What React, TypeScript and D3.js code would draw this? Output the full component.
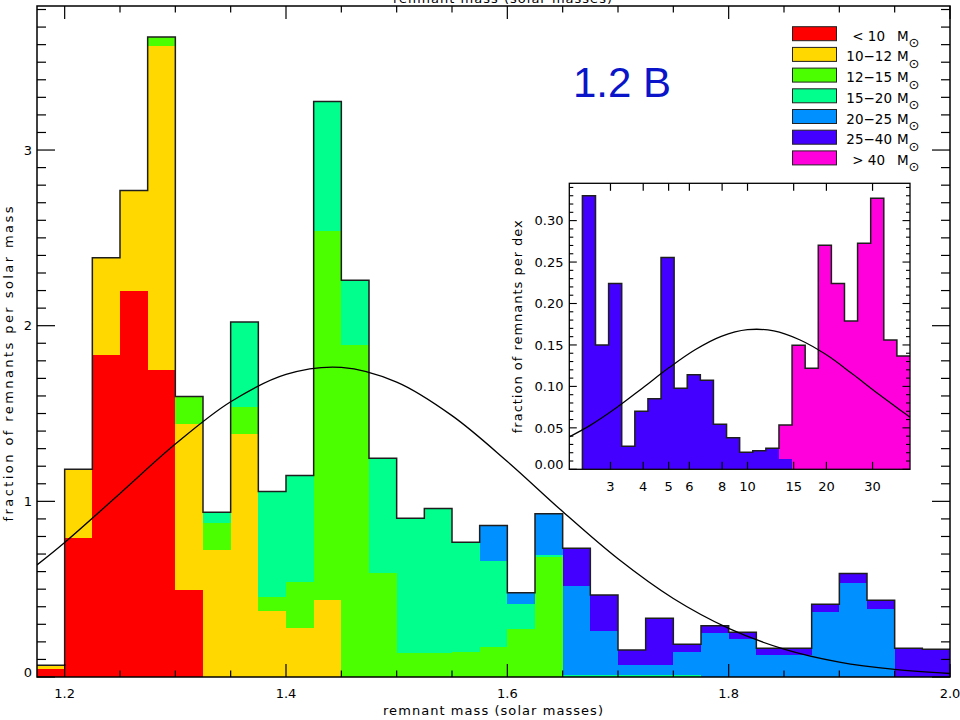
import React from "react";
import * as d3 from "d3";

// ---------- main histogram (remnant mass, bins of 0.025 Msun starting at 1.175) ----------
const BIN_START = 1.175;
const BIN_WIDTH = 0.025;

const massLt10 = [0.045, 0.790, 1.835, 2.199, 1.749, 0.496, 0, 0, 0, 0, 0, 0, 0, 0, 0, 0, 0, 0, 0, 0, 0, 0, 0, 0, 0, 0, 0, 0, 0, 0, 0, 0, 0];
const mass10to12 = [0.022, 0.393, 0.552, 0.570, 1.843, 0.944, 0.724, 1.385, 0.378, 0.281, 0.439, 0, 0, 0, 0, 0, 0, 0, 0, 0, 0, 0, 0, 0, 0, 0, 0, 0, 0, 0, 0, 0, 0];
const mass12to15 = [0, 0, 0, 0, 0.051, 0.157, 0.155, 0.152, 0.076, 0.262, 2.102, 1.888, 0.591, 0.139, 0.139, 0.141, 0.173, 0.272, 0.686, 0, 0, 0, 0, 0, 0, 0, 0, 0, 0, 0, 0, 0, 0];
const mass15to20 = [0, 0, 0, 0, 0, 0, 0.059, 0.484, 0.602, 0.604, 0.735, 0.370, 0.655, 0.765, 0.820, 0.626, 0.488, 0.144, 0.009, 0.010, 0.010, 0.010, 0.010, 0.010, 0, 0, 0, 0, 0, 0, 0, 0, 0];
const mass20to25 = [0, 0, 0, 0, 0, 0, 0, 0, 0, 0, 0, 0, 0, 0, 0, 0, 0.201, 0.064, 0.234, 0.510, 0.252, 0.058, 0.058, 0.134, 0.252, 0.217, 0.124, 0.124, 0.370, 0.537, 0.386, 0, 0];
const mass25to40 = [0, 0, 0, 0, 0, 0, 0, 0, 0, 0, 0, 0, 0, 0, 0, 0, 0, 0, 0, 0.213, 0.205, 0.086, 0.266, 0.042, 0.040, 0.038, 0.039, 0.039, 0.044, 0.052, 0.051, 0.163, 0.158];

// fitted curve
const fitMass = [1.175, 1.2, 1.25, 1.3, 1.35, 1.4, 1.45, 1.5, 1.55, 1.6, 1.65, 1.7, 1.75, 1.8, 1.85, 1.9, 1.95, 2.0];
const fitValue = [0.638, 0.766, 1.045, 1.326, 1.567, 1.723, 1.763, 1.679, 1.488, 1.227, 0.942, 0.673, 0.447, 0.277, 0.159, 0.085, 0.043, 0.020];

// ---------- inset histogram (black hole mass, bins of 0.05 dex starting at log10 M = 0.37) ----------
const INSET_LOG_START = 0.37;
const INSET_LOG_WIDTH = 0.05;
const insetMass25to40 = [0.330, 0.150, 0.224, 0.0277, 0.070, 0.0852, 0.2554, 0.0977, 0.1142, 0.1074, 0.0543, 0.0382, 0.0205, 0.0225, 0.0253, 0.0128, 0, 0, 0, 0, 0, 0, 0, 0, 0];
const insetMassGt40 = [0, 0, 0, 0, 0, 0, 0, 0, 0, 0, 0, 0, 0, 0, 0, 0.0407, 0.1496, 0.1219, 0.2703, 0.224, 0.179, 0.2727, 0.327, 0.156, 0.1367];

const insetFitMass = [2.09, 2.51, 3.16, 3.98, 5.01, 6.31, 7.94, 10.0, 12.6, 15.8, 20.0, 25.1, 31.6, 39.8, 41.7];
const insetFitValue = [0.0392, 0.0530, 0.0742, 0.0981, 0.1224, 0.1442, 0.1604, 0.1684, 0.1670, 0.1563, 0.1381, 0.1152, 0.0908, 0.0675, 0.0628];

// ---------- labels ----------
const legendLabels = ["< 10", "10\u221212", "12\u221215", "15\u221220", "20\u221225", "25\u221240", "> 40"];
const seriesColors = ["#ff0000", "#ffd800", "#4cff00", "#00ff8c", "#0090ff", "#4400ff", "#ff00dc"];
const xMajorTicks = [1.2, 1.4, 1.6, 1.8, 2.0];
const yMajorTicks = [0, 1, 2, 3];
const insetXTicks = [3, 4, 5, 6, 8, 10, 15, 20, 30];
const insetYTicks = [0, 0.05, 0.1, 0.15, 0.2, 0.25, 0.3];

const FONT = "DejaVu Sans, sans-serif";

export default function App() {
  const W = 960;
  const H = 720;
  const m = { left: 37, right: 950, top: 6, bottom: 677 };
  const x = d3.scaleLinear().domain([1.175, 2.0]).range([m.left, m.right]);
  const y = d3.scaleLinear().domain([0, 3.82]).range([m.bottom, m.top]);

  const mainSeries = [massLt10, mass10to12, mass12to15, mass15to20, mass20to25, mass25to40];
  const nBins = massLt10.length;
  const edges = d3.range(nBins + 1).map((i) => BIN_START + i * BIN_WIDTH);
  const totals = d3.range(nBins).map((i) => d3.sum(mainSeries, (s) => s[i]));

  const mainRects: React.ReactNode[] = [];
  for (let i = 0; i < nBins; i++) {
    let cum = 0;
    const x0 = Math.round(x(edges[i]));
    const x1 = Math.round(x(edges[i + 1]));
    mainSeries.forEach((s, k) => {
      const v = s[i];
      if (v > 0) {
        const yTop = Math.round(y(cum + v));
        const yBot = Math.round(y(cum));
        mainRects.push(
          <rect key={`m${i}-${k}`} x={x0} y={yTop} width={x1 - x0} height={Math.max(1, yBot - yTop)} fill={seriesColors[k]} />
        );
      }
      cum += v;
    });
  }

  let stepD = `M${x(edges[0])},${y(totals[0])}`;
  for (let i = 0; i < nBins; i++) {
    stepD += `H${x(edges[i + 1])}`;
    if (i < nBins - 1) stepD += `V${y(totals[i + 1])}`;
  }

  const fitLine = d3
    .line<[number, number]>()
    .x((d) => x(d[0]))
    .y((d) => y(d[1]))
    .curve(d3.curveCatmullRom.alpha(0.5));
  const fitD = fitLine(fitMass.map((v, i) => [v, fitValue[i]]) as [number, number][]) || "";

  const xMinor = d3.range(0, 17).map((i) => 1.2 + i * 0.05);
  const yMinor = d3.range(0, 39).map((i) => i * 0.1);

  // ---------- inset ----------
  const im = { left: 569.3, right: 910, top: 183.3, bottom: 469.3 };
  const ix = d3.scaleLog().domain([Math.pow(10, 0.32), Math.pow(10, 1.62)]).range([im.left, im.right]);
  const iy = d3.scaleLinear().domain([0, 0.345]).range([im.bottom, im.top]);
  const insetSeries = [insetMass25to40, insetMassGt40];
  const insetColors = [seriesColors[5], seriesColors[6]];
  const nInset = insetMass25to40.length;
  const iEdges = d3.range(nInset + 1).map((i) => Math.pow(10, INSET_LOG_START + i * INSET_LOG_WIDTH));
  const iTotals = d3.range(nInset).map((i) => d3.sum(insetSeries, (s) => s[i]));
  const insetRects: React.ReactNode[] = [];
  for (let i = 0; i < nInset; i++) {
    let cum = 0;
    const x0 = Math.round(ix(iEdges[i]));
    const x1 = Math.round(ix(iEdges[i + 1]));
    insetSeries.forEach((s, k) => {
      const v = s[i];
      if (v > 0) {
        const yTop = Math.round(iy(cum + v));
        const yBot = Math.round(iy(cum));
        insetRects.push(
          <rect key={`i${i}-${k}`} x={x0} y={yTop} width={x1 - x0} height={Math.max(1, yBot - yTop)} fill={insetColors[k]} />
        );
      }
      cum += v;
    });
  }
  let iStepD = `M${ix(iEdges[0])},${iy(0)}V${iy(iTotals[0])}`;
  for (let i = 0; i < nInset; i++) {
    iStepD += `H${ix(iEdges[i + 1])}`;
    if (i < nInset - 1) iStepD += `V${iy(iTotals[i + 1])}`;
  }
  const iFitLine = d3
    .line<[number, number]>()
    .x((d) => ix(d[0]))
    .y((d) => iy(d[1]))
    .curve(d3.curveCatmullRom.alpha(0.5));
  const iFitD = iFitLine(insetFitMass.map((v, i) => [v, insetFitValue[i]]) as [number, number][]) || "";
  const iyMinor = d3.range(0, 35).map((i) => i * 0.01);

  const legendTop = 26.7;
  const legendStep = 20.7;

  return (
    <svg
      width={W}
      height={H}
      viewBox={`0 0 ${W} ${H}`}
      style={{ position: "absolute", left: 0, top: 0, background: "#fff", display: "block" }}
      fontFamily={FONT}
    >
      <rect x={0} y={0} width={W} height={H} fill="#fff" />
      <defs>
        <clipPath id="mainClip">
          <rect x={m.left} y={m.top} width={m.right - m.left} height={m.bottom - m.top} />
        </clipPath>
        <clipPath id="insetClip">
          <rect x={im.left} y={im.top} width={im.right - im.left} height={im.bottom - im.top} />
        </clipPath>
      </defs>

      {/* main bars */}
      <g>{mainRects}</g>
      <path d={stepD} fill="none" stroke="#1e1e1e" strokeWidth={1.5} />
      <path d={fitD} fill="none" stroke="#000" strokeWidth={1.3} clipPath="url(#mainClip)" />

      {/* main frame */}
      <rect x={m.left} y={m.top} width={m.right - m.left} height={m.bottom - m.top} fill="none" stroke="#000" strokeWidth={1.5} />
      {xMinor.map((v, i) => {
        const major = xMajorTicks.some((t) => Math.abs(t - v) < 1e-6);
        const len = major ? 13 : 6.5;
        const px = x(v);
        return (
          <g key={`xt${i}`} stroke="#000" strokeWidth={1.2}>
            <line x1={px} x2={px} y1={m.bottom} y2={m.bottom - len} />
            <line x1={px} x2={px} y1={m.top} y2={m.top + len} />
          </g>
        );
      })}
      {yMinor.map((v, i) => {
        const major = yMajorTicks.some((t) => Math.abs(t - v) < 1e-6);
        const len = major ? 18 : 9;
        const py = y(v);
        return (
          <g key={`yt${i}`} stroke="#000" strokeWidth={1.2}>
            <line x1={m.left} x2={m.left + len} y1={py} y2={py} />
            <line x1={m.right} x2={m.right - len} y1={py} y2={py} />
          </g>
        );
      })}
      {xMajorTicks.map((v) => (
        <text key={`xl${v}`} x={x(v)} y={698} fontSize={13} textAnchor="middle" fill="#000">
          {v.toFixed(1)}
        </text>
      ))}
      {yMajorTicks.map((v) => (
        <text key={`yl${v}`} x={32} y={Math.min(y(v) + 4.7, m.bottom)} fontSize={13} textAnchor="end" fill="#000">
          {String(v)}
        </text>
      ))}
      <text x={493} y={715} fontSize={13} textAnchor="middle" textLength={220} lengthAdjust="spacing" fill="#000">
        remnant mass (solar masses)
      </text>
      <text x={502.5} y={3.3} fontSize={13} textAnchor="middle" textLength={219} lengthAdjust="spacing" fill="#000">
        remnant mass (solar masses)
      </text>
      <text
        transform={`translate(12.7,364) rotate(-90)`}
        fontSize={13}
        textAnchor="middle"
        textLength={315}
        lengthAdjust="spacing"
        fill="#000"
      >
        fraction of remnants per solar mass
      </text>

      {/* legend */}
      {legendLabels.map((lab, i) => {
        const top = legendTop + i * legendStep;
        const base = top + 14;
        const isRange = lab.indexOf("\u2212") >= 0;
        return (
          <g key={`lg${i}`}>
            <rect x={792.5} y={top} width={44} height={14} fill={seriesColors[i]} stroke="#222" strokeWidth={1} />
            <text x={isRange ? 892 : 885} y={base} fontSize={13.5} textAnchor="end" fill="#000">
              {lab}
            </text>
            <text x={897} y={base} fontSize={13.5} fill="#000">
              M
            </text>
            <text x={908.5} y={base + 6.5} fontSize={13} fill="#000">
              {"\u2299"}
            </text>
          </g>
        );
      })}

      {/* model label */}
      <text x={573} y={96.5} fontSize={42} fontFamily="Liberation Sans, Arial, sans-serif" fill="#0a14c8">
        1.2 B
      </text>

      {/* inset */}
      <rect x={im.left} y={im.top} width={im.right - im.left} height={im.bottom - im.top} fill="#fff" />
      <g>{insetRects}</g>
      <path d={iStepD} fill="none" stroke="#1e1e1e" strokeWidth={1.5} />
      <path d={iFitD} fill="none" stroke="#000" strokeWidth={1.3} clipPath="url(#insetClip)" />
      <rect x={im.left} y={im.top} width={im.right - im.left} height={im.bottom - im.top} fill="none" stroke="#000" strokeWidth={1.3} />
      {insetXTicks.map((v) => {
        const px = ix(v);
        return (
          <g key={`ixt${v}`}>
            <line x1={px} x2={px} y1={im.bottom} y2={im.bottom - 7.5} stroke="#000" strokeWidth={1.2} />
            <line x1={px} x2={px} y1={im.top} y2={im.top + 7.5} stroke="#000" strokeWidth={1.2} />
            <text x={px} y={490.7} fontSize={13} textAnchor="middle" fill="#000">
              {String(v)}
            </text>
          </g>
        );
      })}
      {iyMinor.map((v, i) => {
        const major = insetYTicks.some((t) => Math.abs(t - v) < 1e-6);
        const len = major ? 7.5 : 4;
        const py = iy(v);
        return (
          <g key={`iyt${i}`} stroke="#000" strokeWidth={1.1}>
            <line x1={im.left} x2={im.left + len} y1={py} y2={py} />
            <line x1={im.right} x2={im.right - len} y1={py} y2={py} />
          </g>
        );
      })}
      {insetYTicks.map((v) => (
        <text key={`iyl${v}`} x={563.5} y={Math.min(iy(v) + 4.7, im.bottom)} fontSize={13} textAnchor="end" fill="#000">
          {v.toFixed(2)}
        </text>
      ))}
      <text
        transform={`translate(521.5,326.7) rotate(-90)`}
        fontSize={13}
        textAnchor="middle"
        textLength={213}
        lengthAdjust="spacing"
        fill="#000"
      >
        fraction of remnants per dex
      </text>
    </svg>
  );
}
